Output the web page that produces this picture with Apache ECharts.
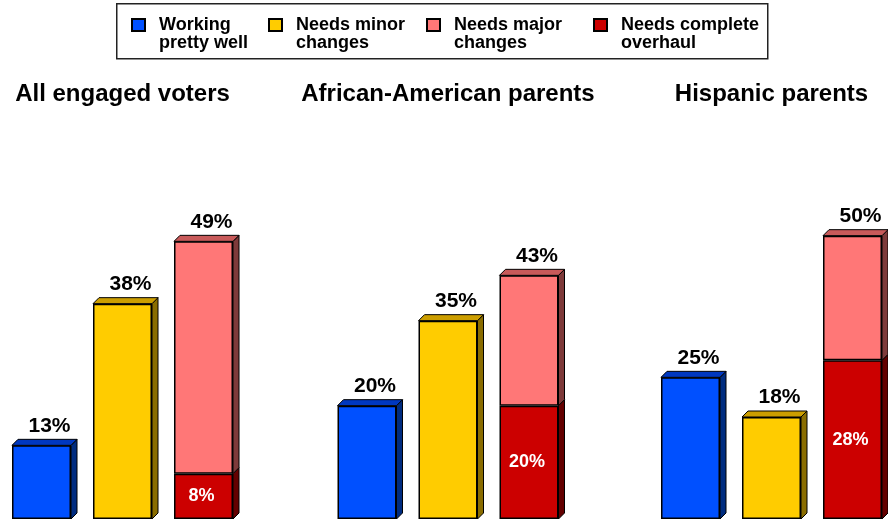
<!DOCTYPE html>
<html>
<head>
<meta charset="utf-8">
<script src="https://cdn.jsdelivr.net/npm/echarts@6/dist/echarts.min.js"></script>
<style>
html,body{margin:0;padding:0;background:#fff;}
#chart{width:888px;height:521px;}
</style>
</head>
<body>
<div id="chart"></div>
<script>
// ---- data ----
const categories = ['All engaged voters', 'African-American parents', 'Hispanic parents'];
const seriesNames = ['Working pretty well', 'Needs minor changes', 'Needs major changes', 'Needs complete overhaul'];
const legendLabels = ['Working\npretty well', 'Needs minor\nchanges', 'Needs major\nchanges', 'Needs complete\noverhaul'];
const workingWell = [13, 20, 25];
const minorChanges = [38, 35, 18];
const majorChangesTotal = [49, 43, 50];   // label on top of the stacked bar
const completeOverhaul = [8, 20, 28];

// ---- styles / layout ----
const FONT = "'Liberation Sans', Arial, sans-serif";
const BAR_W = 59, GAP = 22, DEPTH = 6;
const GRID_W = 233;
const gridLefts = [6, 331.5, 655];
const front = { blue: '#0050FF', yellow: '#FFCC00', pink: '#FF7777', red: '#CC0000' };
const topC = { blue: '#0038C0', yellow: '#CC9E00', pink: '#C85A5A', red: '#990000' };
const sideC = { blue: '#002C80', yellow: '#8A6D00', pink: '#7E3A3A', red: '#640000' };
const colorKeys = ['blue', 'yellow', 'pink', 'red'];

const majorPart = majorChangesTotal.map((t, i) => t - completeOverhaul[i]);

const chart = echarts.init(document.getElementById('chart'), null, { renderer: 'canvas' });

const edge = { borderColor: '#000', borderWidth: 1.5 };
const topLabel = {
  show: true, position: 'top', distance: 9, offset: [8, 0],
  fontFamily: FONT, fontWeight: 'bold', fontSize: 21, color: '#000'
};
const barGapPct = (GAP / BAR_W * 100) + '%';

function legendAt(idx, left) {
  return {
    data: [seriesNames[idx]], left: left, top: -2, padding: 0,
    itemWidth: 13, itemHeight: 12, icon: 'rect',
    selectedMode: false,
    formatter: () => '\n' + legendLabels[idx],
    textStyle: { fontFamily: FONT, fontWeight: 'bold', fontSize: 18, lineHeight: 18, color: '#000', padding: [0, 0, 0, 9] }
  };
}

const grids = [], xAxes = [], yAxes = [], series = [];
categories.forEach((cat, g) => {
  grids.push({ left: gridLefts[g], width: GRID_W, top: 179, bottom: 2 });
  xAxes.push({
    gridIndex: g, type: 'category', data: [cat], position: 'top',
    axisLine: { show: false }, axisTick: { show: false },
    axisLabel: { margin: 73, interval: 0, fontFamily: FONT, fontWeight: 'bold', fontSize: 24, color: '#000' }
  });
  yAxes.push({ gridIndex: g, type: 'value', min: 0, max: 60, show: false, splitLine: { show: false } });

  series.push({
    name: seriesNames[0], type: 'bar', xAxisIndex: g, yAxisIndex: g, data: [workingWell[g]],
    barWidth: BAR_W, barGap: barGapPct,
    itemStyle: Object.assign({ color: front.blue }, edge),
    label: Object.assign({ formatter: '{c}%' }, topLabel), z: 3
  });
  series.push({
    name: seriesNames[1], type: 'bar', xAxisIndex: g, yAxisIndex: g, data: [minorChanges[g]],
    barWidth: BAR_W, barGap: barGapPct,
    itemStyle: Object.assign({ color: front.yellow }, edge),
    label: Object.assign({ formatter: '{c}%' }, topLabel), z: 3
  });
  series.push({
    name: seriesNames[3], type: 'bar', xAxisIndex: g, yAxisIndex: g, stack: 'major' + g, data: [completeOverhaul[g]],
    barWidth: BAR_W, barGap: barGapPct,
    itemStyle: Object.assign({ color: front.red }, edge),
    label: { show: true, position: 'inside', offset: [-2, 0], formatter: '{c}%', fontFamily: FONT, fontWeight: 'bold', fontSize: 18, color: '#fff' }, z: 3
  });
  series.push({
    name: seriesNames[2], type: 'bar', xAxisIndex: g, yAxisIndex: g, stack: 'major' + g, data: [majorPart[g]],
    barWidth: BAR_W, barGap: barGapPct,
    itemStyle: Object.assign({ color: front.pink }, edge),
    label: Object.assign({ formatter: () => majorChangesTotal[g] + '%' }, topLabel), z: 3
  });

  // depth faces: [catIdx, start, end, slot, drawTop, colorIdx]
  const faces = [
    [0, 0, workingWell[g], 0, 1, 0],
    [0, 0, minorChanges[g], 1, 1, 1],
    [0, 0, completeOverhaul[g], 2, 0, 3],
    [0, completeOverhaul[g], majorChangesTotal[g], 2, 1, 2]
  ];
  series.push({
    type: 'custom', name: 'depth' + g, silent: true, z: 2,
    xAxisIndex: g, yAxisIndex: g,
    encode: { x: 0, y: [1, 2] },
    data: faces,
    renderItem: function (params, api) {
      const c = api.value(0), y0v = api.value(1), y1v = api.value(2), slot = api.value(3);
      const drawTop = api.value(4), ck = colorKeys[api.value(5)];
      const center = api.coord([c, 0])[0];
      const x0 = center + (slot - 1) * (BAR_W + GAP) - BAR_W / 2;
      const x1 = x0 + BAR_W;
      const yT = api.coord([c, y1v])[1];
      const yB = api.coord([c, y0v])[1];
      const d = DEPTH;
      const children = [{
        type: 'polygon',
        shape: { points: [[x1, yT], [x1 + d, yT - d], [x1 + d, yB - d], [x1, yB]] },
        style: { fill: sideC[ck], stroke: '#000', lineWidth: 1 }
      }];
      if (drawTop) {
        children.push({
          type: 'polygon',
          shape: { points: [[x0, yT], [x0 + d, yT - d], [x1 + d, yT - d], [x1, yT]] },
          style: { fill: topC[ck], stroke: '#000', lineWidth: 1 }
        });
      }
      return { type: 'group', children: children };
    }
  });
});

chart.setOption({
  animation: false,
  backgroundColor: '#fff',
  graphic: [{
    type: 'rect', left: 116, top: 3, z: -1,
    shape: { width: 651, height: 55 },
    style: { fill: '#fff', stroke: '#222', lineWidth: 1.5 }
  }],
  legend: [legendAt(0, 131), legendAt(1, 268), legendAt(2, 426), legendAt(3, 593)],
  grid: grids,
  xAxis: xAxes,
  yAxis: yAxes,
  series: series
});
</script>
</body>
</html>
